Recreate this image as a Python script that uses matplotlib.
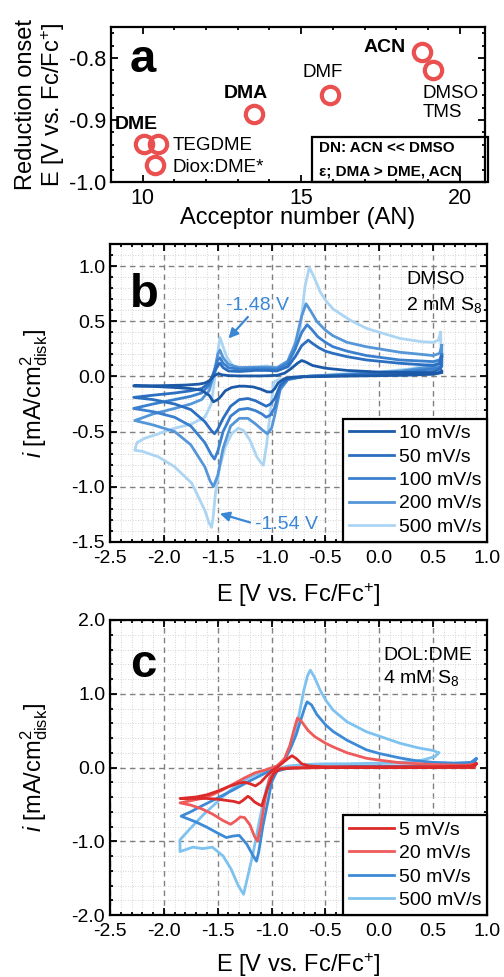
import matplotlib
matplotlib.use("Agg")
import matplotlib.pyplot as plt
from matplotlib.ticker import MultipleLocator, FormatStrFormatter
from matplotlib.patches import Rectangle

plt.rcParams['font.family'] = ['Liberation Sans', 'DejaVu Sans']
plt.rcParams['mathtext.fontset'] = 'custom'
plt.rcParams['mathtext.rm'] = 'Liberation Sans'
plt.rcParams['mathtext.it'] = 'Liberation Sans:italic'
plt.rcParams['axes.unicode_minus'] = False

# ---- panel a: reduction onset vs acceptor number
solvents = ["ACN", "DMSO", "DMF", "DMA", "DME", "TEGDME", "Diox:DME*"]
acceptor_number = [18.8, 19.15, 15.9, 13.5, 10.05, 10.48, 10.38]
onset = [-0.79, -0.82, -0.86, -0.89, -0.938, -0.938, -0.973]

# ---- panel b: DMSO, 2 mM S8 (forward sweep then reverse sweep)
b_rates = ["10 mV/s", "50 mV/s", "100 mV/s", "200 mV/s", "500 mV/s"]
b10_E = [0.58, 0.5, 0.2, -0.2, -0.5, -0.8, -0.88, -0.94, -0.97, -1.0, -1.04, -1.1, -1.17, -1.25, -1.3, -1.37,
         -1.43, -1.47, -1.5, -1.54, -1.58, -1.65, -1.75, -1.9, -2.1, -2.28,
         -2.2, -2.0, -1.8, -1.68, -1.62, -1.58, -1.55, -1.52, -1.49, -1.46, -1.4, -1.3, -1.1, -0.95, -0.88,
         -0.82, -0.76, -0.72, -0.68, -0.62, -0.5, -0.3, 0.0, 0.3, 0.5, 0.56, 0.58]
b10_i = [0.035, 0.02, 0.01, 0.005, 0.0, -0.005, -0.02, -0.06, -0.11, -0.14, -0.14, -0.115, -0.095, -0.088, -0.088, -0.1,
         -0.13, -0.18, -0.21, -0.23, -0.17, -0.125, -0.11, -0.1, -0.09, -0.085,
         -0.085, -0.083, -0.078, -0.07, -0.06, -0.04, -0.01, 0.015, 0.025, 0.015, 0.008, 0.005, 0.005, 0.01, 0.03,
         0.07, 0.12, 0.145, 0.13, 0.1, 0.075, 0.055, 0.04, 0.035, 0.032, 0.035, 0.05]
b50_E = [0.58, 0.57, 0.5, 0.2, -0.3, -0.7, -0.85, -0.92, -0.97, -1.01, -1.05, -1.09, -1.15, -1.22, -1.3, -1.38,
         -1.45, -1.5, -1.53, -1.56, -1.62, -1.75, -1.9, -2.1, -2.28,
         -2.1, -1.9, -1.75, -1.65, -1.58, -1.54, -1.5, -1.48, -1.45, -1.4, -1.3, -1.15, -1.05, -0.95, -0.85,
         -0.78, -0.72, -0.66, -0.62, -0.56, -0.5, -0.43, -0.3, -0.12, 0.19, 0.5, 0.56, 0.58]
b50_i = [0.18, 0.07, 0.045, 0.03, 0.01, 0.0, -0.02, -0.08, -0.2, -0.25, -0.27, -0.25, -0.22, -0.2, -0.21, -0.27,
         -0.38, -0.48, -0.52, -0.49, -0.41, -0.3, -0.25, -0.21, -0.19,
         -0.17, -0.15, -0.13, -0.11, -0.06, 0.02, 0.1, 0.12, 0.08, 0.05, 0.045, 0.055, 0.055, 0.05, 0.09,
         0.18, 0.28, 0.33, 0.3, 0.26, 0.23, 0.21, 0.18, 0.15, 0.12, 0.1, 0.12, 0.18]
b100_E = [0.58, 0.58, 0.5, 0.2, -0.3, -0.7, -0.85, -0.92, -0.97, -1.01, -1.05, -1.09, -1.15, -1.22, -1.3, -1.38,
          -1.45, -1.5, -1.53, -1.56, -1.62, -1.75, -1.9, -2.1, -2.28,
          -2.1, -1.9, -1.75, -1.65, -1.58, -1.54, -1.5, -1.48, -1.45, -1.4, -1.3, -1.15, -1.05, -0.95, -0.85,
          -0.78, -0.72, -0.67, -0.63, -0.57, -0.5, -0.43, -0.3, -0.12, 0.19, 0.5, 0.56, 0.58]
b100_i = [0.2, 0.09, 0.07, 0.04, 0.015, 0.0, -0.025, -0.1, -0.28, -0.35, -0.37, -0.34, -0.31, -0.29, -0.3, -0.36,
          -0.5, -0.68, -0.75, -0.71, -0.6, -0.45, -0.37, -0.32, -0.29,
          -0.25, -0.21, -0.18, -0.15, -0.08, 0.03, 0.15, 0.17, 0.12, 0.08, 0.065, 0.07, 0.07, 0.065, 0.12,
          0.25, 0.4, 0.47, 0.43, 0.36, 0.31, 0.27, 0.23, 0.19, 0.15, 0.135, 0.15, 0.2]
b200_E = [0.58, 0.58, 0.5, 0.2, -0.3, -0.7, -0.85, -0.92, -0.97, -1.0, -1.04, -1.08, -1.15, -1.22, -1.3, -1.38,
          -1.45, -1.5, -1.54, -1.57, -1.62, -1.75, -1.9, -2.1, -2.27,
          -2.1, -1.9, -1.75, -1.65, -1.58, -1.54, -1.5, -1.48, -1.45, -1.4, -1.3, -1.15, -1.05, -0.95, -0.85,
          -0.78, -0.72, -0.68, -0.64, -0.58, -0.5, -0.43, -0.3, -0.12, 0.19, 0.5, 0.56, 0.58]
b200_i = [0.28, 0.12, 0.09, 0.05, 0.02, 0.0, -0.03, -0.12, -0.35, -0.47, -0.52, -0.49, -0.43, -0.38, -0.38, -0.45,
          -0.65, -0.9, -1.0, -0.95, -0.82, -0.62, -0.5, -0.44, -0.4,
          -0.34, -0.29, -0.25, -0.21, -0.13, 0.0, 0.2, 0.24, 0.17, 0.11, 0.08, 0.085, 0.085, 0.08, 0.14,
          0.3, 0.55, 0.66, 0.6, 0.5, 0.42, 0.37, 0.31, 0.27, 0.22, 0.19, 0.21, 0.28]
b500_E = [0.57, 0.575, 0.5, 0.3, 0.0, -0.4, -0.7, -0.85, -0.94, -0.98, -1.01, -1.045, -1.076, -1.1, -1.137, -1.2,
          -1.26, -1.31, -1.37, -1.43, -1.48, -1.52, -1.545, -1.557, -1.58, -1.62, -1.74, -1.9, -2.05, -2.2, -2.27,
          -2.25, -2.175, -2.05, -1.9, -1.74, -1.62, -1.56, -1.525, -1.5, -1.479, -1.45, -1.417, -1.355, -1.2,
          -1.045, -0.92, -0.83, -0.736, -0.69, -0.65, -0.6, -0.55, -0.49, -0.426, -0.272, -0.117, 0.193, 0.4,
          0.5, 0.55, 0.57]
b500_i = [0.4, 0.15, 0.12, 0.07, 0.04, 0.02, 0.0, -0.02, -0.03, -0.05, -0.3, -0.61, -0.806, -0.78, -0.73, -0.58,
          -0.49, -0.47, -0.52, -0.64, -0.82, -1.05, -1.3, -1.37, -1.33, -1.215, -0.97, -0.82, -0.73, -0.68, -0.67,
          -0.6, -0.56, -0.52, -0.47, -0.43, -0.37, -0.25, 0.0, 0.21, 0.354, 0.27, 0.178, 0.09, 0.075,
          0.096, 0.07, 0.09, 0.42, 0.815, 0.99, 0.89, 0.77, 0.68, 0.61, 0.512, 0.436, 0.345, 0.315,
          0.31, 0.33, 0.4]

# ---- panel c: DOL:DME, 4 mM S8
c_rates = ["5 mV/s", "20 mV/s", "50 mV/s", "500 mV/s"]
c5_E = [0.9, 0.88, 0.5, 0.0, -0.5, -0.8, -0.92, -0.98, -1.03, -1.07, -1.09, -1.12, -1.16, -1.19, -1.22, -1.26,
        -1.3, -1.35, -1.4, -1.5, -1.6, -1.7, -1.85,
        -1.7, -1.6, -1.5, -1.4, -1.3, -1.25, -1.2, -1.15, -1.1, -1.05, -1.0, -0.95, -0.9, -0.85, -0.81,
        -0.77, -0.72, -0.65, -0.5, 0.0, 0.5, 0.85, 0.9]
c5_i = [0.05, 0.0, 0.0, 0.0, 0.0, -0.01, -0.02, -0.08, -0.25, -0.42, -0.52, -0.5, -0.465, -0.42, -0.39, -0.44,
        -0.48, -0.46, -0.45, -0.43, -0.42, -0.42, -0.42,
        -0.4, -0.37, -0.32, -0.26, -0.21, -0.2, -0.22, -0.25, -0.2, -0.12, -0.05, 0.0, 0.06, 0.12, 0.16,
        0.12, 0.05, 0.02, 0.01, 0.01, 0.01, 0.02, 0.05]
c20_E = [0.9, 0.85, 0.5, 0.0, -0.5, -0.8, -0.9, -0.97, -1.02, -1.06, -1.1, -1.13, -1.16, -1.2, -1.25, -1.29,
         -1.33, -1.38, -1.45, -1.55, -1.65, -1.75, -1.85,
         -1.75, -1.65, -1.55, -1.45, -1.35, -1.25, -1.15, -1.05, -0.95, -0.88, -0.83, -0.79, -0.76, -0.72,
         -0.66, -0.6, -0.5, -0.43, -0.3, -0.12, 0.0, 0.19, 0.5, 0.8, 0.9]
c20_i = [0.05, 0.0, 0.0, 0.0, 0.0, 0.0, -0.01, -0.05, -0.15, -0.43, -0.79, -1.0, -0.93, -0.78, -0.68, -0.67,
         -0.72, -0.77, -0.72, -0.63, -0.56, -0.51, -0.48,
         -0.45, -0.42, -0.37, -0.3, -0.22, -0.14, -0.07, -0.03, 0.02, 0.12, 0.3, 0.52, 0.67, 0.62,
         0.5, 0.42, 0.33, 0.28, 0.2, 0.125, 0.1, 0.065, 0.04, 0.03, 0.05]
c50_E = [0.9, 0.88, 0.7, 0.4, 0.0, -0.4, -0.7, -0.85, -0.95, -1.0, -1.03, -1.08, -1.12, -1.14, -1.17, -1.23,
         -1.3, -1.36, -1.42, -1.5, -1.6, -1.7, -1.84,
         -1.75, -1.66, -1.51, -1.35, -1.2, -1.05, -0.95, -0.88, -0.83, -0.77, -0.73, -0.69, -0.67, -0.63,
         -0.58, -0.5, -0.43, -0.3, -0.12, 0.0, 0.19, 0.35, 0.5, 0.7, 0.85, 0.9]
c50_i = [0.12, 0.05, 0.03, 0.02, 0.02, 0.01, 0.0, -0.01, -0.05, -0.2, -0.43, -0.79, -1.15, -1.27, -1.2, -1.04,
         -0.92, -0.93, -0.95, -0.89, -0.81, -0.74, -0.66,
         -0.6, -0.53, -0.42, -0.3, -0.18, -0.07, 0.01, 0.1, 0.24, 0.45, 0.64, 0.82, 0.89, 0.85,
         0.72, 0.58, 0.49, 0.37, 0.24, 0.19, 0.13, 0.09, 0.07, 0.06, 0.07, 0.12]
c500_E = [0.55, 0.52, 0.4, 0.2, 0.0, -0.3, -0.5, -0.7, -0.85, -0.95, -1.0, -1.05, -1.11, -1.17, -1.22, -1.26,
          -1.31, -1.375, -1.45, -1.55, -1.64, -1.73, -1.85,
          -1.85, -1.75, -1.64, -1.5, -1.4, -1.33, -1.25, -1.17, -1.05, -0.95, -0.88, -0.8, -0.74, -0.7,
          -0.665, -0.64, -0.6, -0.55, -0.5, -0.43, -0.3, -0.12, 0.19, 0.35, 0.5, 0.55]
c500_i = [0.2, 0.15, 0.1, 0.07, 0.06, 0.05, 0.05, 0.04, 0.02, -0.02, -0.07, -0.29, -0.7, -1.15, -1.47, -1.72,
          -1.6, -1.38, -1.2, -1.08, -1.1, -1.08, -1.14,
          -0.98, -0.82, -0.65, -0.46, -0.33, -0.25, -0.17, -0.11, -0.04, 0.02, 0.1, 0.35, 0.75, 1.05,
          1.25, 1.32, 1.22, 1.05, 0.92, 0.78, 0.62, 0.485, 0.33, 0.27, 0.23, 0.2]

blue_txt = '#3a87d6'


def style_axes(ax, xmaj, xmin, ymaj, ymin, grid=True):
    ax.xaxis.set_major_locator(MultipleLocator(xmaj))
    ax.xaxis.set_minor_locator(MultipleLocator(xmin))
    ax.yaxis.set_major_locator(MultipleLocator(ymaj))
    ax.yaxis.set_minor_locator(MultipleLocator(ymin))
    ax.tick_params(which='both', direction='in', top=True, right=True, width=1.3)
    ax.tick_params(which='major', length=5, labelsize=14)
    ax.tick_params(which='minor', length=2.5)
    ax.tick_params(axis='x', which='major', pad=6)
    for s in ax.spines.values():
        s.set_linewidth(1.6)
    if grid:
        ax.xaxis.set_major_formatter(FormatStrFormatter('%.1f'))
        ax.yaxis.set_major_formatter(FormatStrFormatter('%.1f'))
        ax.grid(which='major', color='#808080', ls=(0, (4, 3)), lw=1.0, zorder=0)
        ax.grid(which='minor', color='#c8c8c8', ls=(0, (1, 2)), lw=0.6, zorder=0)
        ax.set_axisbelow(True)


fig = plt.figure(figsize=(5.04, 9.77), dpi=100)
W, H = 504, 977
ax_a = fig.add_axes([111 / W, (H - 182) / H, 374 / W, 155 / H])
ax_b = fig.add_axes([110 / W, (H - 541.7) / H, 377 / W, 297.4 / H])
ax_c = fig.add_axes([110 / W, (H - 915) / H, 377 / W, 295 / H])

# ---------------- a
ax_a.plot(acceptor_number, onset, 'o', ms=12.5, mfc='none', mec='#eb5050', mew=3, zorder=3)
ax_a.set_xlim(9, 20.8)
ax_a.set_ylim(-1.0, -0.75)
style_axes(ax_a, 5, 1, 0.1, 0.02, grid=False)
ax_a.yaxis.set_major_formatter(FormatStrFormatter('%.1f'))
ax_a.tick_params(which='major', labelsize=15.5)
ax_a.tick_params(axis='x', which='major', pad=4)
ax_a.set_xlabel("Acceptor number (AN)", fontsize=17, va='top')
ax_a.xaxis.set_label_coords(0.5, -0.16)
ax_a.set_ylabel("Reduction onset\nE [V vs. Fc/Fc$^{+}$]", fontsize=17, linespacing=1.1)
ax_a.yaxis.set_label_coords(-0.118, 0.5)
ax_a.text(0.05, 0.71, "a", transform=ax_a.transAxes, fontsize=34, fontweight='bold')
ax_a.text(18.31, -0.783, "ACN", ha='right', va='center', fontsize=14, fontweight='bold')
ax_a.text(18.84, -0.858, "DMSO", ha='left', va='center', fontsize=13.5)
ax_a.text(18.84, -0.888, "TMS", ha='left', va='center', fontsize=13.5)
ax_a.text(15.68, -0.824, "DMF", ha='center', va='center', fontsize=13.5)
ax_a.text(13.24, -0.857, "DMA", ha='center', va='center', fontsize=14, fontweight='bold')
ax_a.text(9.79, -0.907, "DME", ha='center', va='center', fontsize=14, fontweight='bold')
ax_a.text(10.93, -0.941, "TEGDME", ha='left', va='center', fontsize=13.5)
ax_a.text(10.93, -0.977, "Diox:DME*", ha='left', va='center', fontsize=13.5)
ax_a.add_patch(Rectangle((0.537, 0.0), 0.47, 0.29, transform=ax_a.transAxes, fill=False,
                         lw=1.6, ec='black', clip_on=False, zorder=4))
ax_a.text(0.555, 0.22, "DN: ACN << DMSO", transform=ax_a.transAxes, fontsize=11,
          fontweight='bold', va='center')
ax_a.text(0.555, 0.065, "ε; DMA > DME, ACN", transform=ax_a.transAxes, fontsize=11,
          fontweight='bold', va='center')

# ---------------- b
b_E = [b10_E, b50_E, b100_E, b200_E, b500_E]
b_i = [b10_i, b50_i, b100_i, b200_i, b500_i]
b_colors = ['#1c5aa8', '#2c6fc0', '#3b80cf', '#5596d8', '#acd5f3']
b_lines = []
for k in range(4, -1, -1):
    ln, = ax_b.plot(b_E[k], b_i[k], color=b_colors[k], lw=2, label=b_rates[k], zorder=3 + (4 - k))
    b_lines.insert(0, ln)
ax_b.set_xlim(-2.5, 1.0)
ax_b.set_ylim(-1.5, 1.2)
style_axes(ax_b, 0.5, 0.1, 0.5, 0.1)
ax_b.set_xlabel("E [V vs. Fc/Fc$^{+}$]", fontsize=17, va='top')
ax_b.xaxis.set_label_coords(0.5, -0.132)
ax_b.set_ylabel("$i$ [mA/cm$^{2}_{\\mathrm{disk}}$]", fontsize=17)
ax_b.yaxis.set_label_coords(-0.16, 0.5)
ax_b.text(0.053, 0.79, "b", transform=ax_b.transAxes, fontsize=34, fontweight='bold')
ax_b.text(0.785, 0.865, "DMSO", transform=ax_b.transAxes, fontsize=14)
ax_b.text(0.785, 0.78, "2 mM S$_8$", transform=ax_b.transAxes, fontsize=14)
ax_b.text(-1.135, 0.648, "-1.48 V", color=blue_txt, fontsize=14, ha='center', va='center')
ax_b.annotate("", xy=(-1.40, 0.345), xytext=(-1.22, 0.54),
              arrowprops=dict(arrowstyle='-|>', color=blue_txt, lw=1.6, mutation_scale=14,
                              shrinkA=0, shrinkB=0))
ax_b.text(-0.86, -1.34, "-1.54 V", color=blue_txt, fontsize=14, ha='center', va='center')
ax_b.annotate("", xy=(-1.48, -1.245), xytext=(-1.2, -1.325),
              arrowprops=dict(arrowstyle='-|>', color=blue_txt, lw=1.6, mutation_scale=14,
                              shrinkA=0, shrinkB=0))
leg = ax_b.legend(handles=b_lines, loc='lower right', fontsize=14, frameon=True, fancybox=False,
                  edgecolor='black', framealpha=1, borderaxespad=0, handlelength=2.3,
                  handletextpad=0.25, labelspacing=0.3, borderpad=0.3)
leg.get_frame().set_linewidth(1.6)
leg.set_zorder(10)

# ---------------- c
c_E = [c5_E, c20_E, c50_E, c500_E]
c_i = [c5_i, c20_i, c50_i, c500_i]
c_colors = ['#dc2a2a', '#ef5a5a', '#3d8bd6', '#7ec2ef']
c_lines = []
for k in range(3, -1, -1):
    ln, = ax_c.plot(c_E[k], c_i[k], color=c_colors[k], lw=2, label=c_rates[k], zorder=3 + (3 - k))
    c_lines.insert(0, ln)
ax_c.set_xlim(-2.5, 1.0)
ax_c.set_ylim(-2.0, 2.0)
style_axes(ax_c, 0.5, 0.1, 1.0, 0.2)
ax_c.set_xlabel("E [V vs. Fc/Fc$^{+}$]", fontsize=17, va='top')
ax_c.xaxis.set_label_coords(0.5, -0.122)
ax_c.set_ylabel("$i$ [mA/cm$^{2}_{\\mathrm{disk}}$]", fontsize=17)
ax_c.yaxis.set_label_coords(-0.16, 0.5)
ax_c.text(0.053, 0.807, "c", transform=ax_c.transAxes, fontsize=34, fontweight='bold')
ax_c.text(0.724, 0.863, "DOL:DME", transform=ax_c.transAxes, fontsize=14)
ax_c.text(0.724, 0.785, "4 mM S$_8$", transform=ax_c.transAxes, fontsize=14)
leg = ax_c.legend(handles=c_lines, loc='lower right', fontsize=14, frameon=True, fancybox=False,
                  edgecolor='black', framealpha=1, borderaxespad=0, handlelength=2.3,
                  handletextpad=0.25, labelspacing=0.3, borderpad=0.3)
leg.get_frame().set_linewidth(1.6)
leg.set_zorder(10)

fig.savefig("out.png", dpi=100)
